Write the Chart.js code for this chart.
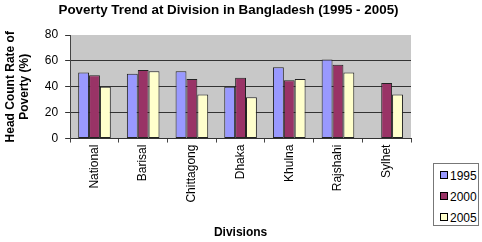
<!DOCTYPE html>
<html>
<head>
<meta charset="utf-8">
<script src="https://cdn.jsdelivr.net/npm/chart.js"></script>
<style>
  html, body { margin: 0; padding: 0; background: #fff; }
  #wrap { position: relative; width: 482px; height: 242px; font-family: "Liberation Sans", Arial, sans-serif; }
  #title { position: absolute; left: 0; top: 2px; width: 457px; text-align: center; font-weight: bold; font-size: 13.4px; color: #000; }
  #legend { position: absolute; left: 433px; top: 163px; width: 46px; height: 63px; border: 1px solid #777; background: #fff; box-sizing: border-box; }
  .item { position: absolute; left: 6px; font-size: 12px; line-height: 14px; color: #000; white-space: nowrap; }
  .sw { display: inline-block; width: 6px; height: 6px; border: 1px solid #000; margin-right: 2px; vertical-align: 1px; }
</style>
</head>
<body>
<div id="wrap">
  <canvas id="povChart" width="482" height="242"></canvas>
  <div id="title">Poverty Trend at Division in Bangladesh (1995 - 2005)</div>
  <div id="legend"></div>
</div>
<script>
const divisions = ["National", "Barisal", "Chittagong", "Dhaka", "Khulna", "Rajshahi", "Sylhet"];
const years = ["1995", "2000", "2005"];
const rate1995 = [51, 50, 52, 40, 55, 61, null];
const rate2000 = [49, 53, 46, 47, 45, 57, 43];
const rate2005 = [40, 52, 34, 32, 46, 51, 34];
const yTicks = [0, 20, 40, 60, 80];
const colors = ["#9999ff", "#993366", "#ffffcc"];

const plotBg = {
  id: "plotBg",
  beforeDraw(chart) {
    const a = chart.chartArea;
    const ctx = chart.ctx;
    ctx.save();
    ctx.fillStyle = "#c8c8c8";
    ctx.fillRect(a.left, a.top, a.right - a.left, a.bottom - a.top);
    ctx.restore();
  }
};

const font = { family: "'Liberation Sans', Arial, sans-serif", size: 12 };

const chart = new Chart(document.getElementById("povChart"), {
  type: "bar",
  data: {
    labels: divisions,
    datasets: [rate1995, rate2000, rate2005].map((d, i) => ({
      label: years[i],
      data: d,
      backgroundColor: colors[i],
      borderColor: "#222",
      borderWidth: 1,
      borderSkipped: false,
      barPercentage: 1,
      categoryPercentage: 0.67
    }))
  },
  options: {
    responsive: false,
    animation: false,
    layout: { padding: { top: 35, right: 71, bottom: 2, left: 3 } },
    plugins: { legend: { display: false }, title: { display: false }, tooltip: { enabled: false } },
    scales: {
      x: {
        grid: { drawOnChartArea: false, offset: true, tickLength: 4, color: "#444" },
        border: { color: "#333" },
        ticks: { color: "#000", font: font, minRotation: 90, maxRotation: 90, autoSkip: false, padding: 2 },
        title: { display: true, text: "Divisions", color: "#000", font: { ...font, weight: "bold" }, padding: { top: 21, bottom: 0 } }
      },
      y: {
        min: 0,
        max: 80,
        afterBuildTicks(axis) { axis.ticks = yTicks.map(v => ({ value: v })); },
        grid: {
          color: c => (c.tick && c.tick.value === 80 ? "rgba(0,0,0,0)" : "#333"),
          tickColor: "#333",
          tickLength: 5
        },
        border: { color: "#444" },
        ticks: { color: "#000", font: font, padding: 7 },
        title: { display: true, text: ["Head Count Rate of", "Poverty (%)"], color: "#000", font: { ...font, weight: "bold" }, padding: { top: 0, bottom: 6 } }
      }
    }
  },
  plugins: [plotBg]
});

const legend = document.getElementById("legend");
chart.data.datasets.forEach((ds, i) => {
  const item = document.createElement("div");
  item.className = "item";
  item.style.top = (5 + i * 21) + "px";
  item.innerHTML = '<span class="sw" style="background:' + ds.backgroundColor + '"></span>' + ds.label;
  legend.appendChild(item);
});
</script>
</body>
</html>
